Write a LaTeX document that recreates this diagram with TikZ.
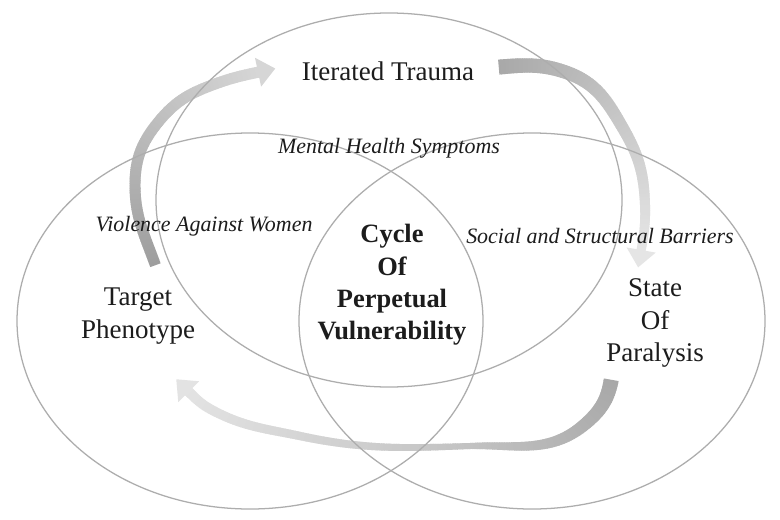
\documentclass[tikz,border=0pt]{standalone}
\usepackage{fontspec}
\setmainfont{Liberation Serif}
\usepackage{xcolor}
\usetikzlibrary{decorations.markings}

\definecolor{ringgray}{HTML}{ADADAD}
\definecolor{inkblack}{HTML}{1C1C1C}

\begin{document}
\begin{tikzpicture}[x=0.025cm, y=0.025cm]
        % ================= 样式定义 =================
        \tikzset{
            % 三个椭圆:浅灰细线
            ring/.style={draw=ringgray, line width=0.9pt},
            % 渐变灰色弯曲箭头:起始宽/终止宽 (像素) / 起始灰度/终止灰度
            fadeflow/.style args={#1/#2/#3/#4}{
                postaction={decorate, decoration={markings,
                    mark=between positions 0 and 1 step 1.2pt with {
                        \pgfmathsetmacro\fpos{\pgfkeysvalueof{/pgf/decoration/mark info/distance from start}/\pgfdecoratedpathlength}
                        \pgfmathsetmacro\rw{(#1+(#2-#1)*\fpos)*0.709/2}
                        \pgfmathsetmacro\glev{#3+(#4-#3)*\fpos}
                        \fill[black!\glev] (-0.9pt,-\rw pt) rectangle (0.9pt,\rw pt);
                    }}}},
            % 箭头头部
            headmark/.style={
                postaction={decorate, decoration={markings,
                    mark=at position 0.999 with {
                        \fill[black!#1] (-0.5pt,-10.5pt) -- (12pt,0pt) -- (-0.5pt,10.5pt) -- cycle;
                    }}}},
            % 文字样式
            toplbl/.style={font=\fontsize{19.2}{23}\selectfont, text=inkblack, inner sep=0pt},
            corelbl/.style={font=\fontsize{18.8}{23}\selectfont\bfseries, text=inkblack, inner sep=0pt},
            sublbl/.style={font=\fontsize{15.6}{19}\selectfont\itshape, text=inkblack, inner sep=0pt}
        }

        \fill[white] (0,0) rectangle (780,-519);
        \useasboundingbox (0,0) rectangle (780,-519);

        % ================= 椭圆中心 =================
        \coordinate (top) at (389,-200);
        \coordinate (left) at (250,-321);
        \coordinate (right) at (532,-321);

        % ================= 箭头 A:Target Phenotype -> Iterated Trauma =================
        \coordinate (a0) at (155,-264);
        \coordinate (a1) at (135,-185);
        \coordinate (a2) at (160,-120);
        \coordinate (a3) at (215,-84);
        \coordinate (a4) at (259,-72);
        \path[fadeflow=11/11/38/16, headmark=16]
            (a0) to[out=110, in=-90] (a1) to[out=90, in=-130] (a2)
                 to[out=50, in=-160] (a3) to[out=20, in=-168] (a4);

        % ================= 箭头 B:Iterated Trauma -> State Of Paralysis =================
        \coordinate (b0) at (500,-67);
        \coordinate (b1) at (568,-73);
        \coordinate (b2) at (624,-130);
        \coordinate (b3) at (645,-205);
        \coordinate (b4) at (641,-251);
        \path[fadeflow=15/9/34/10, headmark=10]
            (b0) to[out=5, in=160] (b1) to[out=-20, in=120] (b2)
                 to[out=-60, in=92] (b3) to[out=-88, in=80] (b4);

        % ================= 箭头 C:State Of Paralysis -> Target Phenotype =================
        \coordinate (c0) at (611,-381);
        \coordinate (c1) at (584,-425);
        \coordinate (c2) at (470,-446);
        \coordinate (c3) at (300,-436);
        \coordinate (c4) at (212,-410);
        \coordinate (c5) at (188,-391);
        \path[fadeflow=15/6/34/24]
            (c0) to[out=-100, in=40] (c1) to[out=-140, in=2] (c2);
        \path[fadeflow=6/10/24/11, headmark=11]
            (c2) to[out=182, in=-12] (c3) to[out=168, in=-28] (c4) to[out=152, in=-45] (c5);

        % ================= 三个椭圆 =================
        \draw[ring] (top) ellipse [x radius=233, y radius=187];
        \draw[ring] (left) ellipse [x radius=233, y radius=188];
        \draw[ring] (right) ellipse [x radius=233, y radius=188];

        % ================= 文字 =================
        \node[toplbl, anchor=base] (trauma) at (388,-80) {Iterated Trauma};
        \node[toplbl, align=center] (target) at (138,-316) {Target\\Phenotype};
        \node[toplbl, align=center] (paralysis) at (655,-323) {State\\Of\\Paralysis};
        \node[corelbl, align=center] (cycle) at (392,-285) {Cycle\\Of\\Perpetual\\Vulnerability};

        \node[sublbl, anchor=base] (mental) at (389,-153) {Mental Health Symptoms};
        \node[sublbl, anchor=base] (violence) at (204,-231) {Violence Against Women};
        \node[sublbl, anchor=base] (barriers) at (600,-243) {Social and Structural Barriers};

    \end{tikzpicture}
\end{document}
